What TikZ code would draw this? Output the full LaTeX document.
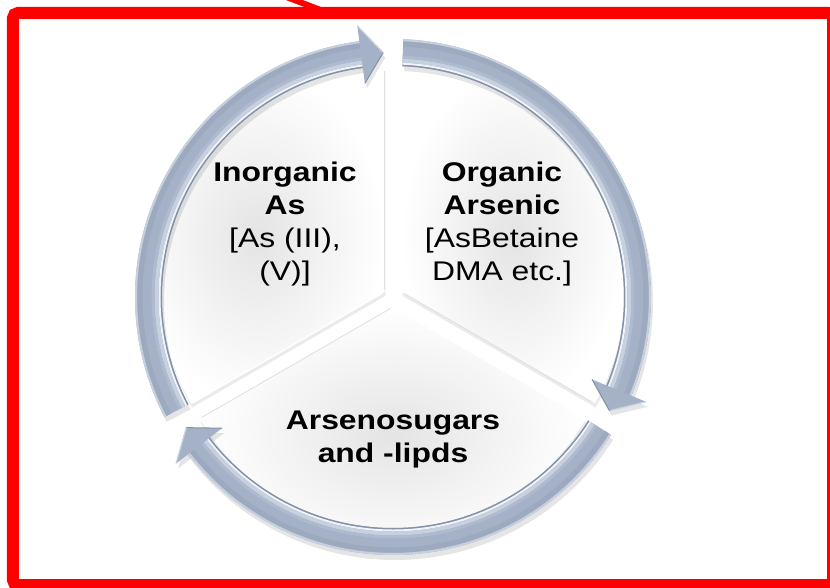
\documentclass[tikz,border=0pt]{standalone}
\usepackage{fontspec}
\setmainfont{Liberation Sans}
\usepackage{graphicx}
\definecolor{ringbase}{RGB}{164,177,198}
\definecolor{ringdark}{RGB}{132,145,166}
\definecolor{ringlight}{RGB}{198,208,222}
\definecolor{ringhi}{RGB}{240,243,248}
\definecolor{slicegray}{RGB}{228,228,228}
\definecolor{borderred}{RGB}{255,0,0}
\begin{document}
\begin{tikzpicture}[x=1pt,y=1pt,
  lbl/.style={inner sep=0pt, text=black, font=\fontsize{27}{33}\selectfont},
  ringshadow/.style={fill=black, opacity=0.10},
  slicefill/.style={inner color=slicegray, outer color=white},
  sliceshadow/.style={fill=black, opacity=0.08}]
\useasboundingbox (-393,-290) rectangle (437,297);
\fill[white] (-393,-290) rectangle (437,297);

% pie slices
\foreach \a in {150,30,270} {
  \begin{scope}[shift={({\a}:10)}]
    \fill[sliceshadow, xshift=1, yshift=-4] (0,0) -- ({\a+60}:223) arc[start angle=\a+60, end angle=\a-60, radius=223] -- cycle;
    \shade[slicefill] (0,0) -- ({\a+60}:223) arc[start angle=\a+60, end angle=\a-60, radius=223] -- cycle;
    \draw[white, line width=1.5] ({\a+60}:3) -- ({\a+60}:221);
    \draw[gray!25, line width=0.8] ({\a-60}:3) -- ({\a-60}:221);
  \end{scope}
}

% ring arrows
\foreach \s in {87.7,-32.3,-152.3} {
  \pgfmathsetmacro\t{\s-115.4}
  \pgfmathsetmacro\b{\t+5.2}
  \pgfmathsetmacro\e{\b-1}
  \begin{scope}[xshift=2, yshift=-5]
    \fill[ringshadow] (\s:258) arc[start angle=\s, end angle=\e, radius=258] -- (\e:231) arc[start angle=\e, end angle=\s, radius=231] -- cycle;
    \fill[ringshadow] (\b:273.5) -- (\t:244.5) -- (\b:215.5) -- cycle;
  \end{scope}
  \fill[ringbase] (\s:258) arc[start angle=\s, end angle=\e, radius=258] -- (\e:231) arc[start angle=\e, end angle=\s, radius=231] -- cycle;
  \begin{scope}
    \clip (\s:258) arc[start angle=\s, end angle=\e, radius=258] -- (\e:231) arc[start angle=\e, end angle=\s, radius=231] -- cycle;
    \draw[ringdark, line width=2] (0,0) circle (231.5);
    \draw[ringhi, line width=2] (0,0) circle (233.5);
    \draw[ringlight, line width=4] (0,0) circle (236.5);
    \draw[ringbase!70!ringlight, line width=3] (0,0) circle (240);
    \draw[ringbase!75!ringdark, line width=5] (0,0) circle (253);
    \draw[ringlight, line width=2] (0,0) circle (257);
  \end{scope}
  \fill[ringbase] (\b:273.5) -- (\t:244.5) -- (\b:215.5) -- cycle;
  \draw[ringlight, line width=1.2, line join=round] (\b:273.5) -- (\t:244.5);
  \draw[ringdark, line width=1, line join=round] (\t:244.5) -- (\b:215.5);
}

% labels
\node[lbl] (inorg) at (-108,73) {\scalebox{1.18}[1]{\begin{tabular}{@{}c@{}}\textbf{Inorganic}\\ \textbf{As}\\ {}[As (III),\\ (V)]\end{tabular}}};
\node[lbl] (org) at (109,73) {\scalebox{1.18}[1]{\begin{tabular}{@{}c@{}}\textbf{Organic}\\ \textbf{Arsenic}\\ {}[AsBetaine\\ DMA etc.]\end{tabular}}};
\node[lbl] (sugars) at (0,-142) {\scalebox{1.18}[1]{\begin{tabular}{@{}c@{}}\textbf{Arsenosugars}\\ \textbf{and -lipds}\end{tabular}}};

% red frame and pointer
\draw[borderred, line width=12, rounded corners=5] (-380,284) rectangle (440,-288);
\draw[borderred, line width=6] (-117,304) -- (-62,283);
\end{tikzpicture}
\end{document}
